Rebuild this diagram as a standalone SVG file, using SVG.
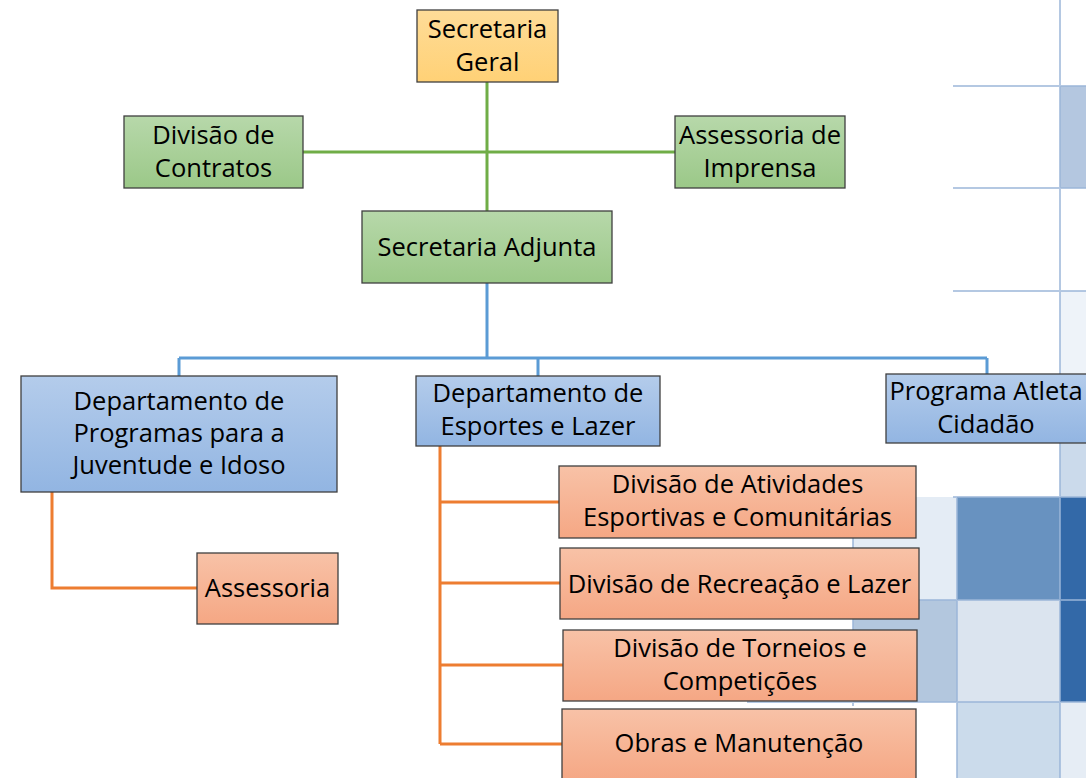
<svg xmlns="http://www.w3.org/2000/svg" width="1086" height="778" viewBox="0 0 1086 778">
<defs>
<linearGradient id="gY" x1="0" y1="0" x2="0" y2="1"><stop offset="0" stop-color="#fedc98"/><stop offset="1" stop-color="#ffd176"/></linearGradient>
<linearGradient id="gG" x1="0" y1="0" x2="0" y2="1"><stop offset="0" stop-color="#b7d8aa"/><stop offset="1" stop-color="#9bc888"/></linearGradient>
<linearGradient id="gB" x1="0" y1="0" x2="0" y2="1"><stop offset="0" stop-color="#b4cceb"/><stop offset="1" stop-color="#92b5e2"/></linearGradient>
<linearGradient id="gO" x1="0" y1="0" x2="0" y2="1"><stop offset="0" stop-color="#f8c2a7"/><stop offset="1" stop-color="#f5a784"/></linearGradient>
</defs>
<style>
.box{stroke:#3f3f3f;stroke-width:1.3}
.y{fill:url(#gY)}.g{fill:url(#gG)}.b{fill:url(#gB)}.o{fill:url(#gO)}
text{font-family:"Open Sans","Noto Sans","DejaVu Sans",sans-serif;font-size:25.5px;fill:#000;text-anchor:middle}
.grid{stroke:#9bb6d8;stroke-width:2;opacity:0.75;fill:none}
.cg{stroke:#70ad47;stroke-width:3;fill:none}
.cb{stroke:#5b9bd5;stroke-width:3;fill:none}
.co{stroke:#ed7d31;stroke-width:3;fill:none}
</style>
<rect width="1086" height="778" fill="#ffffff"/>
<g id="background">
<rect x="1060" y="86" width="26" height="102" fill="#b4c7e0"/>
<rect x="1060" y="291" width="26" height="104" fill="#eef3f9"/>
<rect x="1060" y="395" width="26" height="102" fill="#cbdaeb"/>
<rect x="853" y="497" width="104" height="103" fill="#e4ecf5"/>
<rect x="957" y="497" width="103" height="103" fill="#6892c0"/>
<rect x="1060" y="497" width="26" height="103" fill="#3369a8"/>
<rect x="853" y="600" width="104" height="102" fill="#b3c7de"/>
<rect x="957" y="600" width="103" height="102" fill="#dbe4ef"/>
<rect x="1060" y="600" width="26" height="102" fill="#3369a8"/>
<rect x="957" y="702" width="103" height="76" fill="#cbdbeb"/>
<rect x="1060" y="702" width="26" height="76" fill="#e6edf5"/>
<path class="grid" d="M1060 0V778M953 86H1086M953 188H1086M953 291H1086M953 395H1086M953 497H1086M853 497V706M957 497V778M853 600H1086M747 702H1086"/>
</g>
<g id="connectors">
<path class="cg" d="M487 82V211M303 152H675"/>
<path class="cb" d="M487 283V358M179 358H987M179 358V376M538 358V376M987 358V374"/>
<path class="co" d="M52 492V588H197"/>
<path class="co" d="M440 446V744M440 502H559M440 583H560M440 665H563M440 744H562"/>
</g>
<g id="secretaria-geral"><rect class="box y" x="417" y="10" width="141" height="72"/><text x="487.5" y="38">Secretaria</text><text x="487.5" y="71">Geral</text></g>
<g id="divisao-contratos"><rect class="box g" x="124" y="116" width="179" height="72"/><text x="213.5" y="144">Divisão de</text><text x="213.5" y="177">Contratos</text></g>
<g id="assessoria-imprensa"><rect class="box g" x="675" y="116" width="170" height="72"/><text x="760" y="144">Assessoria de</text><text x="760" y="177">Imprensa</text></g>
<g id="secretaria-adjunta"><rect class="box g" x="362" y="211" width="250" height="72"/><text x="487" y="256">Secretaria Adjunta</text></g>
<g id="dep-programas"><rect class="box b" x="21" y="376" width="316" height="116"/><text x="179" y="410">Departamento de</text><text x="179" y="442">Programas para a</text><text x="179" y="474">Juventude e Idoso</text></g>
<g id="dep-esportes"><rect class="box b" x="416" y="376" width="244" height="70"/><text x="538" y="402">Departamento de</text><text x="538" y="435">Esportes e Lazer</text></g>
<g id="programa-atleta"><rect class="box b" x="886" y="374" width="206" height="69"/><text x="986" y="400">Programa Atleta</text><text x="986" y="433">Cidadão</text></g>
<g id="assessoria"><rect class="box o" x="197" y="553" width="141" height="71"/><text x="267.5" y="597">Assessoria</text></g>
<g id="div-atividades"><rect class="box o" x="559" y="466" width="357" height="72"/><text x="737.5" y="493">Divisão de Atividades</text><text x="737.5" y="526">Esportivas e Comunitárias</text></g>
<g id="div-recreacao"><rect class="box o" x="560" y="548" width="359" height="71"/><text x="739.5" y="593">Divisão de Recreação e Lazer</text></g>
<g id="div-torneios"><rect class="box o" x="563" y="630" width="354" height="71"/><text x="740" y="657">Divisão de Torneios e</text><text x="740" y="690">Competições</text></g>
<g id="obras"><rect class="box o" x="562" y="709" width="354" height="72"/><text x="739" y="752">Obras e Manutenção</text></g>
</svg>
